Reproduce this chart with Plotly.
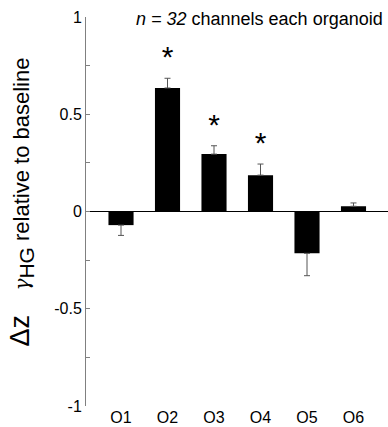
import plotly.graph_objects as go

categories = ["O1", "O2", "O3", "O4", "O5", "O6"]
means = [-0.07, 0.635, 0.295, 0.187, -0.215, 0.027]
sems = [0.053, 0.05, 0.043, 0.057, 0.115, 0.017]
significant = [False, True, True, True, False, False]
y_ticks = [1, 0.5, 0, -0.5, -1]
y_tick_labels = ["1", "0.5", "0", "-0.5", "-1"]

err_up = [e if m >= 0 else 0 for m, e in zip(means, sems)]
err_down = [e if m < 0 else 0 for m, e in zip(means, sems)]

FONT = "Liberation Sans, Arial, Helvetica, sans-serif"

fig = go.Figure()
fig.add_trace(go.Bar(
    x=categories, y=means, width=0.54,
    marker=dict(color="black", line=dict(width=0)),
    error_y=dict(type="data", symmetric=False, array=err_up, arrayminus=err_down,
                 color="#555555", thickness=1, width=3),
    showlegend=False,
))

star_x = [c for c, s in zip(categories, significant) if s]
star_y = [m + e + 0.095 for m, e, s in zip(means, sems, significant) if s]
fig.add_trace(go.Scatter(
    x=star_x, y=star_y, mode="text", text=["*"] * len(star_x),
    textposition="middle center",
    textfont=dict(family=FONT, size=30, color="black"),
    showlegend=False, hoverinfo="skip",
))

fig.update_layout(
    width=388, height=427,
    margin=dict(l=86, r=0, t=17, b=21),
    paper_bgcolor="white", plot_bgcolor="white",
    font=dict(family=FONT, color="black"),
    bargap=0.46,
    xaxis=dict(
        type="category", range=[-0.753, 5.742],
        showline=False, showgrid=False, zeroline=False, ticks="",
        tickfont=dict(size=16, color="black"),
    ),
    yaxis=dict(
        range=[-1, 1], showgrid=False,
        showline=True, linecolor="#808080", linewidth=1,
        zeroline=True, zerolinecolor="black", zerolinewidth=1,
        tickvals=y_ticks, ticktext=y_tick_labels,
        ticks="inside", ticklen=4, tickcolor="#808080",
        minor=dict(dtick=0.25, ticks="inside", ticklen=4, tickcolor="#808080", showgrid=False),
        tickfont=dict(size=16, color="black"),
    ),
    annotations=[
        dict(
            text="<i>n = 32</i> channels each organoid",
            xref="paper", yref="paper", x=1.0, y=1.0, xanchor="right", yanchor="middle",
            xshift=-3, yshift=-2, showarrow=False,
            font=dict(size=18, color="black", family=FONT),
        ),
        dict(
            text="<span style='font-size:27px'>Δz</span>\u00a0\u00a0\u00a0\u00a0<span style='font-family:DejaVu Serif;font-style:italic;font-size:20px'>γ</span><sub><span style='font-size:21px'>HG</span></sub> relative to baseline",
            xref="paper", yref="paper", x=0, y=0.523, xshift=-64,
            xanchor="center", yanchor="middle", textangle=-90, showarrow=False,
            font=dict(size=22, color="black", family=FONT),
        ),
    ],
)

fig.write_html("out.html", config={"displayModeBar": False},
               post_script="document.body.style.margin='0px';document.body.style.padding='0px';")
